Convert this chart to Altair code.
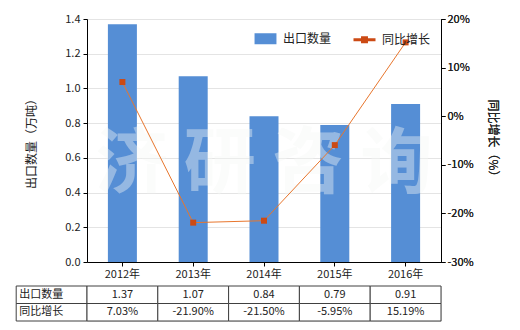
import altair as alt
import pandas as pd

years = ["2012年", "2013年", "2014年", "2015年", "2016年"]
qty = [1.37, 1.07, 0.84, 0.79, 0.91]
yoy = [7.03, -21.90, -21.50, -5.95, 15.19]
qty_labels = ["1.37", "1.07", "0.84", "0.79", "0.91"]
yoy_labels = ["7.03%", "-21.90%", "-21.50%", "-5.95%", "15.19%"]
row_names = ["出口数量", "同比增长"]
left_ticks = [0, 0.2, 0.4, 0.6, 0.8, 1.0, 1.2, 1.4]
right_ticks = [-30, -20, -10, 0, 10, 20]
watermark = "济 研 咨 询"

FONT = "Noto Sans CJK SC"
BLUE = "#558ED5"
LINE = "#E8762D"
MARK = "#CC4A14"

df = pd.DataFrame({"year": years, "qty": qty, "yoy": yoy})

x_enc = alt.X(
    "year:N", sort=years, title=None,
    scale=alt.Scale(paddingInner=0, paddingOuter=0),
    axis=alt.Axis(labelAngle=0, domainColor="#000", tickColor="#000", tickSize=4,
                  labelPadding=2, labelFontSize=11, labelColor="#222", grid=False),
)

bars = alt.Chart(df).mark_bar(size=29, color=BLUE).encode(
    x=x_enc,
    y=alt.Y("qty:Q", scale=alt.Scale(domain=[0, 1.4], nice=False),
            axis=alt.Axis(values=left_ticks, format=".1f", title="出口数量（万吨）",
                          domainColor="#000", tickColor="#000", tickSize=4, labelPadding=3,
                          labelFontSize=11, labelColor="#222", titleFontSize=12,
                          titleFontWeight="normal", titleColor="#222", titlePadding=26,
                          grid=True, gridColor="#E4E4E4")),
)

wm = alt.Chart(pd.DataFrame({"t": [watermark]})).mark_text(
    fontSize=72, fontWeight="bold", font=FONT, color="#F6F8F6", opacity=0.4,
    align="center", baseline="middle",
).encode(text="t:N", x=alt.value(177), y=alt.value(146))

y_right = alt.Y("yoy:Q", scale=alt.Scale(domain=[-30, 20], nice=False),
                axis=alt.Axis(orient="right", values=right_ticks, labelExpr="datum.value + '%'",
                              title="同比增长（%）", domainColor="#000", tickColor="#000",
                              tickSize=4, labelPadding=2, labelFontSize=11, labelColor="#222",
                              titleFontSize=12, titleFontWeight="normal", titleColor="#222",
                              titlePadding=12, grid=False))

line = alt.Chart(df).mark_line(color=LINE, strokeWidth=1).encode(x=x_enc, y=y_right)
pts = alt.Chart(df).mark_point(shape="square", filled=True, size=36, color=MARK, opacity=1).encode(
    x=x_enc, y=y_right)

ldom = row_names
legend_layer = alt.Chart(df).transform_filter("false").mark_point(filled=True, opacity=1).encode(
    color=alt.Color("s:N", scale=alt.Scale(domain=ldom, range=[BLUE, MARK]),
                    legend=alt.Legend(orient="none", legendX=166, legendY=7, direction="horizontal",
                                      title=None, symbolSize=484, symbolStrokeWidth=3,
                                      labelFontSize=12, labelColor="#222", labelFont=FONT,
                                      labelOffset=5, columnPadding=15, padding=0,
                                      symbolOpacity=1)),
    shape=alt.Shape("s:N", scale=alt.Scale(domain=ldom, range=[
        "M-0.86,-0.36H0.86V0.36H-0.86Z",
        "M-1,0H1M-0.18,-0.18H0.18V0.18H-0.18Z"])),
    stroke=alt.Stroke("s:N", scale=alt.Scale(domain=ldom, range=[BLUE, MARK])),
)

main = alt.layer(bars, wm, line, pts, legend_layer).resolve_scale(y="independent").properties(
    width=354, height=243)

# table
cols = ["_label"] + years
cells = []
for r, name in enumerate(row_names):
    vals = qty_labels if r == 0 else yoy_labels
    cells.append({"col": "_label", "row": name, "txt": ""})
    for y, v in zip(years, vals):
        cells.append({"col": y, "row": name, "txt": v})
tdf = pd.DataFrame(cells)
ldf = pd.DataFrame({"col": ["_label"] * 2, "row": row_names, "txt": row_names})

tx = alt.X("col:N", sort=cols, title=None, axis=None,
           scale=alt.Scale(domain=cols, range=[-70.8, 354], paddingInner=0, paddingOuter=0))
ty = alt.Y("row:N", sort=row_names, title=None, axis=None,
           scale=alt.Scale(domain=row_names, paddingInner=0, paddingOuter=0))

rects = alt.Chart(tdf).mark_rect(fill="white", stroke="#404040", strokeWidth=1).encode(x=tx, y=ty)
vtext = alt.Chart(tdf).mark_text(fontSize=11, color="#222", font=FONT).encode(x=tx, y=ty, text="txt:N")
ltext = alt.Chart(ldf).mark_text(fontSize=11, color="#222", font=FONT, align="left", dx=3).encode(
    x=alt.X("col:N", sort=cols, title=None, axis=None, bandPosition=0,
            scale=alt.Scale(domain=cols, range=[-70.8, 354], paddingInner=0, paddingOuter=0)),
    y=ty, text="txt:N")
table = alt.layer(rects, vtext, ltext).properties(width=354, height=35)

chart = alt.vconcat(main, table, spacing=24, bounds="flush").resolve_scale(x="independent").properties(
    padding={"left": 15, "top": 12, "right": 5, "bottom": 5}
).configure_view(stroke=None).configure(font=FONT)

chart.save("out.html", embed_options={"renderer": "svg", "actions": False})
